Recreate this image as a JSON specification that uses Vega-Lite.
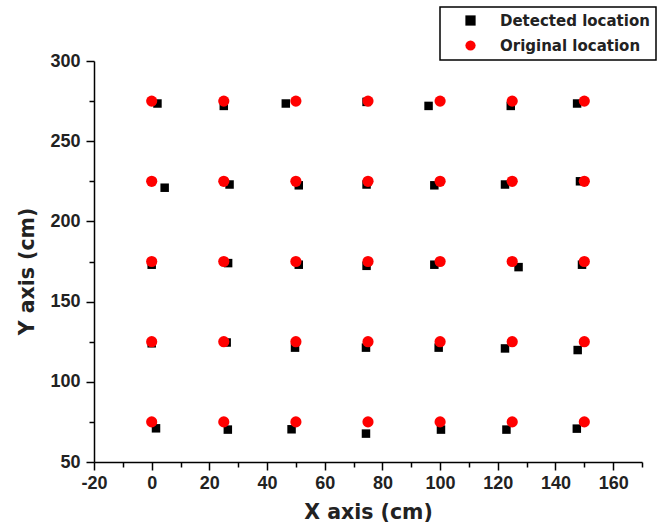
{
  "$schema": "https://vega.github.io/schema/vega-lite/v6.json",
  "autosize": "none",
  "width": 548,
  "height": 401,
  "padding": {"left": 94, "top": 61, "right": 15, "bottom": 66},
  "background": "white",
  "config": {
    "view": {"stroke": null},
    "axis": {
      "domainColor": "black", "domainWidth": 1.5, "tickColor": "black", "tickWidth": 1.5,
      "grid": false, "labelFont": "Liberation Sans", "labelFontWeight": "bold", "labelFontSize": 18,
      "labelColor": "#222", "titleFont": "DejaVu Sans", "titleFontWeight": "bold", "titleFontSize": 20.5, "titleColor": "#222"
    },
    "legend": {
      "labelFont": "DejaVu Sans", "labelFontWeight": "bold", "labelFontSize": 15, "labelColor": "#222",
      "strokeWidth": 1.5
    }
  },
  "data": {"values": [
    {"x": 2, "y": 273.5, "series": "Detected location"},
    {"x": 25, "y": 272, "series": "Detected location"},
    {"x": 46.5, "y": 273.5, "series": "Detected location"},
    {"x": 74.5, "y": 274.5, "series": "Detected location"},
    {"x": 96, "y": 272, "series": "Detected location"},
    {"x": 124.5, "y": 272, "series": "Detected location"},
    {"x": 147.5, "y": 273.5, "series": "Detected location"},
    {"x": 4.5, "y": 221, "series": "Detected location"},
    {"x": 27, "y": 223, "series": "Detected location"},
    {"x": 51, "y": 222.5, "series": "Detected location"},
    {"x": 74.5, "y": 223, "series": "Detected location"},
    {"x": 98, "y": 222.5, "series": "Detected location"},
    {"x": 122.5, "y": 223, "series": "Detected location"},
    {"x": 148.5, "y": 225, "series": "Detected location"},
    {"x": 0, "y": 173, "series": "Detected location"},
    {"x": 26.5, "y": 174, "series": "Detected location"},
    {"x": 51, "y": 173, "series": "Detected location"},
    {"x": 74.5, "y": 172.3, "series": "Detected location"},
    {"x": 98, "y": 173, "series": "Detected location"},
    {"x": 127.2, "y": 171.5, "series": "Detected location"},
    {"x": 149.2, "y": 173, "series": "Detected location"},
    {"x": 0, "y": 124, "series": "Detected location"},
    {"x": 26, "y": 124.5, "series": "Detected location"},
    {"x": 49.7, "y": 121.3, "series": "Detected location"},
    {"x": 74.3, "y": 121.3, "series": "Detected location"},
    {"x": 99.5, "y": 121.3, "series": "Detected location"},
    {"x": 122.5, "y": 120.8, "series": "Detected location"},
    {"x": 147.7, "y": 119.8, "series": "Detected location"},
    {"x": 1.5, "y": 71, "series": "Detected location"},
    {"x": 26.4, "y": 70.2, "series": "Detected location"},
    {"x": 48.5, "y": 70.4, "series": "Detected location"},
    {"x": 74.3, "y": 67.7, "series": "Detected location"},
    {"x": 100.3, "y": 70.2, "series": "Detected location"},
    {"x": 123, "y": 70.2, "series": "Detected location"},
    {"x": 147.4, "y": 70.8, "series": "Detected location"},
    {"x": 0, "y": 275, "series": "Original location"},
    {"x": 25, "y": 275, "series": "Original location"},
    {"x": 50, "y": 275, "series": "Original location"},
    {"x": 75, "y": 275, "series": "Original location"},
    {"x": 100, "y": 275, "series": "Original location"},
    {"x": 125, "y": 275, "series": "Original location"},
    {"x": 150, "y": 275, "series": "Original location"},
    {"x": 0, "y": 225, "series": "Original location"},
    {"x": 25, "y": 225, "series": "Original location"},
    {"x": 50, "y": 225, "series": "Original location"},
    {"x": 75, "y": 225, "series": "Original location"},
    {"x": 100, "y": 225, "series": "Original location"},
    {"x": 125, "y": 225, "series": "Original location"},
    {"x": 150, "y": 225, "series": "Original location"},
    {"x": 0, "y": 175, "series": "Original location"},
    {"x": 25, "y": 175, "series": "Original location"},
    {"x": 50, "y": 175, "series": "Original location"},
    {"x": 75, "y": 175, "series": "Original location"},
    {"x": 100, "y": 175, "series": "Original location"},
    {"x": 125, "y": 175, "series": "Original location"},
    {"x": 150, "y": 175, "series": "Original location"},
    {"x": 0, "y": 125, "series": "Original location"},
    {"x": 25, "y": 125, "series": "Original location"},
    {"x": 50, "y": 125, "series": "Original location"},
    {"x": 75, "y": 125, "series": "Original location"},
    {"x": 100, "y": 125, "series": "Original location"},
    {"x": 125, "y": 125, "series": "Original location"},
    {"x": 150, "y": 125, "series": "Original location"},
    {"x": 0, "y": 75, "series": "Original location"},
    {"x": 25, "y": 75, "series": "Original location"},
    {"x": 50, "y": 75, "series": "Original location"},
    {"x": 75, "y": 75, "series": "Original location"},
    {"x": 100, "y": 75, "series": "Original location"},
    {"x": 125, "y": 75, "series": "Original location"},
    {"x": 150, "y": 75, "series": "Original location"}
  ]},
  "encoding": {
    "x": {
      "field": "x", "type": "quantitative",
      "scale": {"domain": [-20, 170], "nice": false, "zero": false},
      "axis": {
        "title": "X axis (cm)",
        "values": [-20, -10, 0, 10, 20, 30, 40, 50, 60, 70, 80, 90, 100, 110, 120, 130, 140, 150, 160, 170],
        "labelExpr": "datum.value % 20 === 0 && datum.value <= 160 ? toString(datum.value) : ''",
        "tickSize": {"condition": {"test": "datum.value % 20 !== 0", "value": 5}, "value": 8},
        "labelPadding": 4, "titlePadding": 10, "labelFlush": false, "labelOverlap": false
      }
    },
    "y": {
      "field": "y", "type": "quantitative",
      "scale": {"domain": [50, 300], "nice": false, "zero": false},
      "axis": {
        "title": "Y axis (cm)",
        "values": [50, 75, 100, 125, 150, 175, 200, 225, 250, 275, 300],
        "labelExpr": "datum.value % 50 === 0 ? datum.label : ''",
        "tickSize": {"condition": {"test": "datum.value % 50 !== 0", "value": 5}, "value": 8},
        "labelPadding": 6, "titlePadding": 12, "labelFlush": false, "labelOverlap": false, "titleY": 210
      }
    },
    "color": {
      "field": "series", "type": "nominal",
      "scale": {"domain": ["Detected location", "Original location"], "range": ["black", "red"]},
      "legend": {
        "title": null, "orient": "none", "legendX": 346, "legendY": -54,
        "strokeColor": "black", "padding": 6, "fillColor": "white",
        "symbolSize": 105, "symbolStrokeWidth": 0, "symbolOffset": 17, "labelOffset": 22, "rowPadding": 9,
        "labelBaseline": "middle"
      }
    },
    "shape": {
      "field": "series", "type": "nominal",
      "scale": {"domain": ["Detected location", "Original location"], "range": ["square", "circle"]},
      "legend": {
        "title": null, "orient": "none", "legendX": 346, "legendY": -54,
        "strokeColor": "black", "padding": 6, "fillColor": "white",
        "symbolSize": 105, "symbolStrokeWidth": 0, "symbolOffset": 17, "labelOffset": 22, "rowPadding": 9,
        "labelBaseline": "middle"
      }
    }
  },
  "layer": [
    {
      "transform": [{"filter": "datum.series === 'Detected location'"}],
      "mark": {"type": "point", "filled": true, "opacity": 1, "size": 72}
    },
    {
      "transform": [{"filter": "datum.series === 'Original location'"}],
      "mark": {"type": "point", "filled": true, "opacity": 1, "size": 125}
    }
  ]
}
